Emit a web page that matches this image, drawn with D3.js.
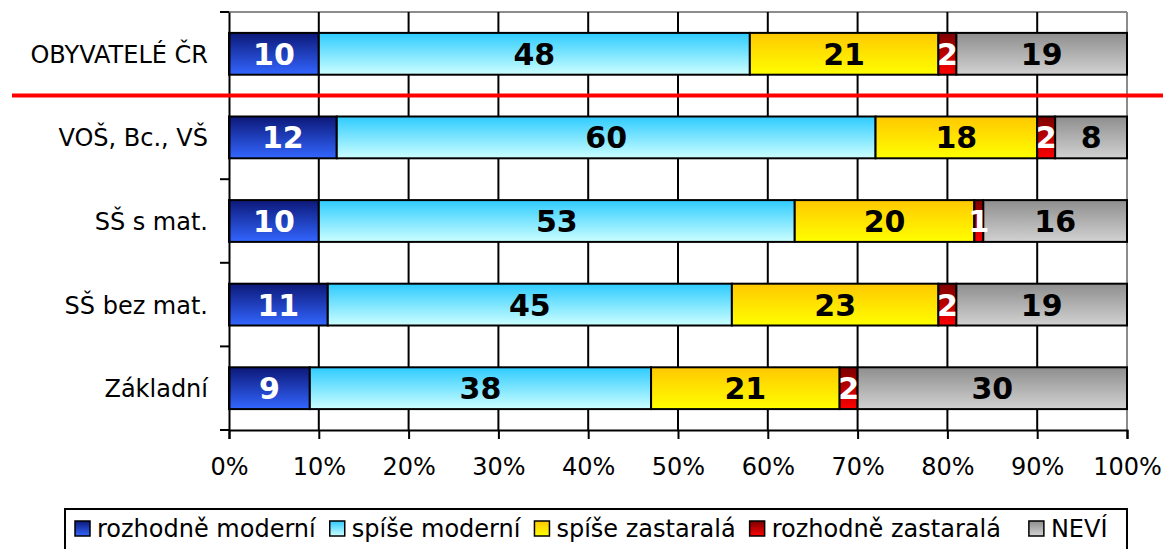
<!DOCTYPE html>
<html>
<head>
<meta charset="utf-8">
<script src="https://cdn.jsdelivr.net/npm/d3@7"></script>
<style>
  body { margin: 0; background: #fff; }
  svg { display: block; font-family: 'DejaVu Sans', Verdana, sans-serif; }
</style>
</head>
<body>
<div id="chart"></div>
<script>
const categories = ['OBYVATELÉ ČR', 'VOŠ, Bc., VŠ', 'SŠ s mat.', 'SŠ bez mat.', 'Základní']
const seriesNames = ['rozhodně moderní', 'spíše moderní', 'spíše zastaralá', 'rozhodně zastaralá', 'NEVÍ']
const rozhodneModerni = [10, 12, 10, 11, 9]
const spiseModerni = [48, 60, 53, 45, 38]
const spiseZastarala = [21, 18, 20, 23, 21]
const rozhodneZastarala = [2, 2, 1, 2, 2]
const nevi = [19, 8, 16, 19, 30]
const xTicks = [0, 10, 20, 30, 40, 50, 60, 70, 80, 90, 100]

const gradients = [
  ['#0c1878', '#3366ff'],
  ['#2ecbff', '#ccffff'],
  ['#ffc800', '#ffff00'],
  ['#7a0000', '#ff0000'],
  ['#8e8e8e', '#d2d2d2']
]
const labelColors = ['#fff', '#000', '#000', '#fff', '#000']

const width = 1164, height = 549
const margin = {top: 12, right: 37, bottom: 119, left: 229}

const table = categories.map((c, i) => ({
  cat: c,
  'rozhodně moderní': rozhodneModerni[i],
  'spíše moderní': spiseModerni[i],
  'spíše zastaralá': spiseZastarala[i],
  'rozhodně zastaralá': rozhodneZastarala[i],
  'NEVÍ': nevi[i]
}))
const stacked = d3.stack().keys(seriesNames)(table)

const xScale = d3.scaleLinear()
  .domain([0, 100])
  .range([margin.left, width - margin.right])
const yScale = d3.scaleBand()
  .domain(categories)
  .range([margin.top, height - margin.bottom])
  .paddingInner(0.5)
  .paddingOuter(0.25)

const svg = d3.select('#chart').append('svg')
  .attr('width', width)
  .attr('height', height)

const defs = svg.append('defs')
gradients.forEach((g, i) => {
  const lg = defs.append('linearGradient')
    .attr('id', 'grad' + i)
    .attr('x1', 0).attr('y1', 0).attr('x2', 0).attr('y2', 1)
  lg.append('stop').attr('offset', '0%').attr('stop-color', g[0])
  lg.append('stop').attr('offset', '100%').attr('stop-color', g[1])
})

const y0 = margin.top, y1 = height - margin.bottom
const x0 = margin.left, x1 = width - margin.right

// plot frame (top and right are grey)
svg.append('line')
  .attr('x1', x0).attr('x2', x1).attr('y1', y0).attr('y2', y0)
  .attr('stroke', '#8c8c8c').attr('stroke-width', 2)
svg.append('line')
  .attr('x1', x1).attr('x2', x1).attr('y1', y0).attr('y2', y1)
  .attr('stroke', '#8c8c8c').attr('stroke-width', 2)

// vertical grid
svg.append('g')
  .selectAll('line')
  .data(xTicks.slice(1, -1))
  .join('line')
  .attr('x1', d => xScale(d)).attr('x2', d => xScale(d))
  .attr('y1', y0).attr('y2', y1)
  .attr('stroke', '#000').attr('stroke-width', 2)

// bars
const layer = svg.append('g')
  .selectAll('g')
  .data(stacked)
  .join('g')
  .attr('fill', (d, i) => `url(#grad${i})`)
layer.selectAll('rect')
  .data(d => d)
  .join('rect')
  .attr('x', d => xScale(d[0]))
  .attr('y', d => yScale(d.data.cat))
  .attr('width', d => xScale(d[1]) - xScale(d[0]))
  .attr('height', yScale.bandwidth())
  .attr('stroke', '#000')
  .attr('stroke-width', 2)

// value labels
svg.append('g')
  .selectAll('g')
  .data(stacked)
  .join('g')
  .attr('fill', (d, i) => labelColors[i])
  .selectAll('text')
  .data(d => d)
  .join('text')
  .attr('x', d => (xScale(d[0]) + xScale(d[1])) / 2)
  .attr('y', d => yScale(d.data.cat) + yScale.bandwidth() / 2 + 11)
  .attr('text-anchor', 'middle')
  .attr('font-weight', 'bold')
  .attr('font-size', 30)
  .text(d => d[1] - d[0])

// left axis
const yAxis = d3.axisLeft(yScale).tickSize(0).tickFormat('')
svg.append('g')
  .attr('transform', `translate(${x0}, 0)`)
  .call(yAxis)
  .call(g => g.select('.domain').attr('stroke', '#000').attr('stroke-width', 2))
const bounds = categories.map(c => yScale(c) - yScale.step() * yScale.paddingInner() / 2)
bounds.push(y1)
svg.append('g')
  .selectAll('line')
  .data(bounds)
  .join('line')
  .attr('x1', x0 - 9).attr('x2', x0)
  .attr('y1', d => d).attr('y2', d => d)
  .attr('stroke', '#000').attr('stroke-width', 2)

// category labels
svg.append('g')
  .selectAll('text')
  .data(categories)
  .join('text')
  .attr('x', 208)
  .attr('y', d => yScale(d) + yScale.bandwidth() / 2 + 9)
  .attr('text-anchor', 'end')
  .attr('font-size', 24)
  .attr('fill', '#000')
  .text(d => d)

// bottom axis
const xAxis = d3.axisBottom(xScale)
  .tickValues(xTicks)
  .tickSize(9)
  .tickPadding(19)
  .tickFormat(d => d + '%')
svg.append('g')
  .attr('transform', `translate(0, ${y1})`)
  .call(xAxis)
  .call(g => g.select('.domain').attr('stroke', '#000').attr('stroke-width', 2))
  .call(g => g.selectAll('.tick line').attr('stroke', '#000').attr('stroke-width', 2))
  .call(g => g.selectAll('.tick text')
    .attr('font-size', 24)
    .attr('font-family', "'DejaVu Sans', Verdana, sans-serif")
    .attr('fill', '#000'))

// red separator line
svg.append('line')
  .attr('x1', 12).attr('x2', width - 1)
  .attr('y1', bounds[1]).attr('y2', bounds[1])
  .attr('stroke', '#ff0000').attr('stroke-width', 4)

// legend
const legend = svg.append('g')
legend.append('rect')
  .attr('x', 65).attr('y', 509)
  .attr('width', 1062).attr('height', 60)
  .attr('fill', '#fff').attr('stroke', '#000').attr('stroke-width', 2)
let lx = 75
seriesNames.forEach((name, i) => {
  legend.append('rect')
    .attr('x', lx).attr('y', 521)
    .attr('width', 15).attr('height', 15)
    .attr('fill', `url(#grad${i})`)
    .attr('stroke', '#000').attr('stroke-width', 1.5)
  const t = legend.append('text')
    .attr('x', lx + 22).attr('y', 537)
    .attr('font-size', 24)
    .attr('fill', '#000')
    .text(name)
  lx += 22 + t.node().getComputedTextLength() + (i === 3 ? 28 : 14)
})
</script>
</body>
</html>
